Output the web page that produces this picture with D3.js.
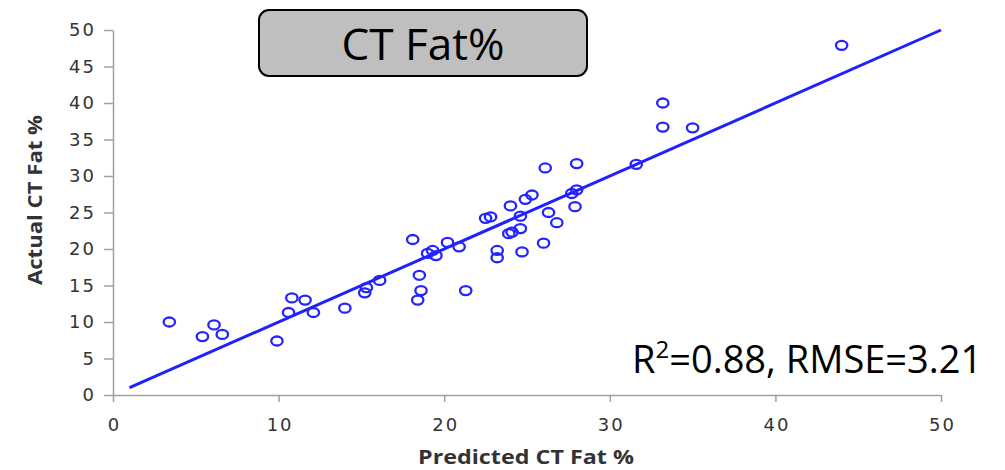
<!DOCTYPE html>
<html>
  <head>
    <meta charset="UTF-8">
    <style>
      body {
        margin: 0;
        background: white;
        font-family: "DejaVu Sans", Verdana, sans-serif;
      }

      .x-axis text,
      .y-axis text {
        fill: #333;
        font-size: 18px;
        letter-spacing: 2px;
        font-family: "DejaVu Sans", Verdana, sans-serif;
      }

      .x-axis line,
      .y-axis line,
      .x-axis .domain,
      .y-axis .domain {
        stroke: #a0a0a0;
        stroke-width: 1.5;
      }

      .axis-title {
        fill: #333;
        font-weight: bold;
        font-size: 19px;
        font-family: "Open Sans", sans-serif;
      }
    </style>
    <script src="https://d3js.org/d3.v7.min.js"></script>
  </head>

  <body>
    <svg id="scatter"></svg>

    <script type="text/javascript">
      // Predicted vs actual CT fat %, one entry per animal
      let predicted = [3.4, 5.4, 6.1, 6.6, 9.9, 10.6, 10.8, 11.6, 12.1, 14.0,
        15.2, 15.3, 16.1, 18.1, 18.4, 18.6, 18.5, 19.0, 19.3, 19.5,
        20.2, 20.9, 21.3, 22.5, 22.8, 23.2, 23.2, 23.9, 24.1, 24.0,
        24.6, 24.6, 24.7, 24.9, 25.3, 26.1, 26.0, 26.3, 26.8, 27.7,
        27.9, 28.0, 28.0, 31.6, 33.2, 33.2, 35.0, 44.0]
      let actual = [10.0, 8.0, 9.6, 8.3, 7.4, 11.3, 13.3, 13.0, 11.3, 11.9,
        14.0, 14.7, 15.7, 21.3, 13.0, 14.3, 16.4, 19.4, 19.8, 19.1,
        20.9, 20.3, 14.3, 24.2, 24.4, 18.8, 19.8, 22.1, 22.3, 25.9,
        22.8, 24.5, 19.6, 26.8, 27.4, 31.1, 20.8, 25.0, 23.6, 27.6,
        25.8, 31.7, 28.1, 31.6, 36.7, 40.0, 36.6, 47.9]

      let fitLine = [1, 50]
      let xTicks = [0, 10, 20, 30, 40, 50]
      let yTicks = [0, 5, 10, 15, 20, 25, 30, 35, 40, 45, 50]

      let titleText = 'CT Fat%'
      let xTitle = 'Predicted CT Fat %'
      let yTitle = 'Actual CT Fat %'

      function getChartConfig() {
        let width = 1005
        let height = 470
        let margin = { top: 30, bottom: 75, left: 113, right: 64 }
        let bodyWidth = width - margin.left - margin.right
        let bodyHeight = height - margin.top - margin.bottom

        let container = d3.select('#scatter')
          .attr('width', width)
          .attr('height', height)

        return { width, height, margin, bodyWidth, bodyHeight, container }
      }

      function getChartScales(config) {
        let xScale = d3.scaleLinear()
          .domain([0, 50])
          .range([0, config.bodyWidth])

        let yScale = d3.scaleLinear()
          .domain([0, 50])
          .range([config.bodyHeight, 0])

        return { xScale, yScale }
      }

      function drawAxes(scales, config) {
        let axisX = d3.axisBottom(scales.xScale)
          .tickValues(xTicks)
          .tickSize(7)
          .tickSizeOuter(0)
          .tickPadding(16)
        config.container
          .append('g')
          .attr('class', 'x-axis')
          .attr('transform', `translate(${config.margin.left}, ${config.margin.top + config.bodyHeight})`)
          .call(axisX)
          .selectAll('.tick text')
            .attr('dx', 1)

        let axisY = d3.axisLeft(scales.yScale)
          .tickValues(yTicks)
          .tickSize(9)
          .tickSizeOuter(0)
          .tickPadding(8)
        config.container
          .append('g')
          .attr('class', 'y-axis')
          .attr('transform', `translate(${config.margin.left}, ${config.margin.top})`)
          .call(axisY)

        config.container
          .append('text')
          .attr('class', 'axis-title')
          .attr('x', 526)
          .attr('y', 464)
          .attr('text-anchor', 'middle')
          .attr('textLength', 216)
          .attr('lengthAdjust', 'spacingAndGlyphs')
          .text(xTitle)

        config.container
          .append('text')
          .attr('class', 'axis-title')
          .attr('transform', 'translate(42, 200) rotate(-90)')
          .attr('text-anchor', 'middle')
          .attr('textLength', 170)
          .attr('lengthAdjust', 'spacingAndGlyphs')
          .text(yTitle)
      }

      function drawPoints(scales, config) {
        let g = config.container
          .append('g')
          .attr('transform', `translate(${config.margin.left}, ${config.margin.top})`)

        g.append('line')
          .attr('x1', scales.xScale(fitLine[0]))
          .attr('y1', scales.yScale(fitLine[0]))
          .attr('x2', scales.xScale(fitLine[1]))
          .attr('y2', scales.yScale(fitLine[1]))
          .attr('stroke', '#1f1fff')
          .attr('stroke-width', 3)

        g.selectAll('.point')
          .data(predicted.map((p, i) => ({ p, a: actual[i] })))
          .enter()
          .append('ellipse')
          .attr('class', 'point')
          .attr('cx', d => scales.xScale(d.p))
          .attr('cy', d => scales.yScale(d.a))
          .attr('rx', 5.7)
          .attr('ry', 4.5)
          .attr('fill', 'none')
          .attr('stroke', '#2424ff')
          .attr('stroke-width', 2.3)
      }

      function drawLabels(config) {
        let box = config.container.append('g')
        box.append('rect')
          .attr('x', 259)
          .attr('y', 10)
          .attr('width', 328)
          .attr('height', 66)
          .attr('rx', 10)
          .attr('fill', '#bfbfbf')
          .attr('stroke', '#000')
          .attr('stroke-width', 2)
        box.append('text')
          .attr('x', 423)
          .attr('y', 60)
          .attr('text-anchor', 'middle')
          .attr('font-family', 'Open Sans, sans-serif')
          .attr('font-size', 44)
          .attr('textLength', 163)
          .attr('lengthAdjust', 'spacingAndGlyphs')
          .attr('fill', '#000')
          .text(titleText)

        let stats = config.container.append('text')
          .attr('x', 632)
          .attr('y', 373)
          .attr('font-family', 'Open Sans, sans-serif')
          .attr('font-size', 38)
          .attr('fill', '#000')
        stats.append('tspan').text('R')
        stats.append('tspan')
          .attr('font-size', 24)
          .attr('dy', -15)
          .text('2')
        stats.append('tspan')
          .attr('dy', 15)
          .text('=0.88, RMSE=3.21')
      }

      function showData() {
        let config = getChartConfig()
        let scales = getChartScales(config)
        drawAxes(scales, config)
        drawPoints(scales, config)
        drawLabels(config)
      }

      showData()
    </script>
  </body>
</html>
